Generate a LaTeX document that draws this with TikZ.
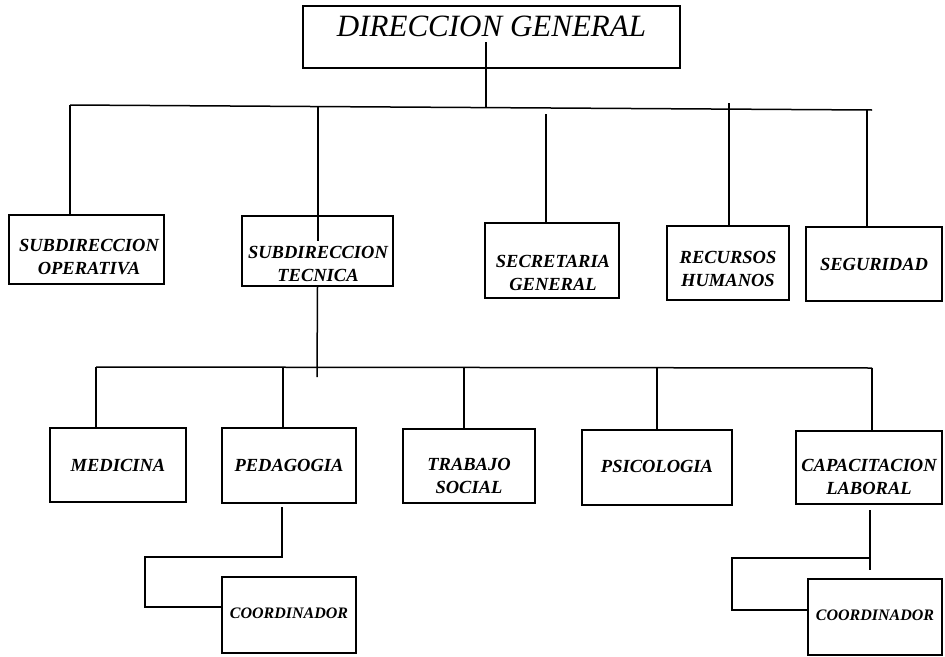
\documentclass[tikz,border=0pt]{standalone}
\usepackage{fontspec}
\setmainfont{Liberation Serif}
\begin{document}
\begin{tikzpicture}[x=1pt,y=-1pt,
  box/.style={draw, line width=1.8pt, fill=white, inner sep=0pt},
  txt/.style={inner sep=0pt, align=center,
    font=\fontsize{18.5}{23}\selectfont\bfseries\itshape},
  ctxt/.style={txt, font=\fontsize{16}{19}\selectfont\bfseries\itshape},
  ln/.style={line width=1.5pt}]
\useasboundingbox (0,0) rectangle (945,656);

% connector points
\coordinate (dgin) at (486,42);
\coordinate (dgb) at (486,107);
\coordinate (bL) at (70,105);
\coordinate (bR) at (872,110);
\coordinate (stb) at (318,106);
\coordinate (stin) at (318,241);
\coordinate (sgt) at (546,114);
\coordinate (rht) at (729,103);
\coordinate (segt) at (867,109);
\coordinate (c2L) at (96,367);
\coordinate (c2R) at (872,368);
\coordinate (c2end) at (317,377);
\coordinate (pedt) at (283,367);
\coordinate (tst) at (464,367);
\coordinate (psit) at (657,368);

% top level
\node[draw, line width=1.8pt, inner sep=0pt, minimum width=377pt,
  text height=30pt, text depth=32pt,
  font=\fontsize{31}{31}\selectfont\itshape] (dg) at (491.5,37) {DIRECCION GENERAL};

% level 2 boxes
\node[box, minimum width=155pt, minimum height=69pt] (so) at (86.5,249.5) {};
\node[box, fill=none, minimum width=151pt, minimum height=70pt] (st) at (317.5,251) {};
\node[box, minimum width=134pt, minimum height=75pt] (sg) at (552,260.5) {};
\node[box, minimum width=122pt, minimum height=74pt] (rh) at (728,263) {};
\node[box, minimum width=136pt, minimum height=74pt] (seg) at (874,264) {};

% level 3 boxes
\node[box, minimum width=136pt, minimum height=74pt] (med) at (118,465) {};
\node[box, minimum width=134pt, minimum height=75pt] (ped) at (289,465.5) {};
\node[box, minimum width=132pt, minimum height=74pt] (ts) at (469,466) {};
\node[box, minimum width=150pt, minimum height=75pt] (psi) at (657,467.5) {};
\node[box, minimum width=146pt, minimum height=73pt] (cap) at (869,467.5) {};

% level 4 boxes
\node[box, minimum width=134pt, minimum height=76pt] (co1) at (289,615) {};
\node[box, minimum width=134pt, minimum height=76pt] (co2) at (875,617) {};

% lines
\draw[ln] (dgin) -- (dgb);
\draw[ln] (bL) -- (bR);
\draw[ln] (bL) -- (bL |- so.north);
\draw[ln] (stb) -- (stin);
\draw[ln] (st.south) -- (c2end);
\draw[ln] (sgt) -- (sgt |- sg.north);
\draw[ln] (rht) -- (rht |- rh.north);
\draw[ln] (segt) -- (segt |- seg.north);

\draw[ln] (c2L) -- (c2R);
\draw[ln] (c2L) -- (c2L |- med.north);
\draw[ln] (pedt) -- (pedt |- ped.north);
\draw[ln] (tst) -- (tst |- ts.north);
\draw[ln] (psit) -- (psit |- psi.north);
\draw[ln] (c2R) -- (c2R |- cap.north);

\coordinate (p1) at (282,507);
\coordinate (p2) at (282,557);
\coordinate (p3) at (145,557);
\coordinate (p4) at (145,607);
\draw[ln] (p1) -- (p2) -- (p3) -- (p4) -- (p4 -| co1.west);

\coordinate (q1) at (870,510);
\coordinate (q2) at (870,570);
\coordinate (q3) at (870,558);
\coordinate (q4) at (732,558);
\coordinate (q5) at (732,610);
\draw[ln] (q1) -- (q2);
\draw[ln] (q3) -- (q4) -- (q5) -- (q5 -| co2.west);

% texts
\node[txt] (sot) at (89,257) {SUBDIRECCION\\OPERATIVA};
\node[txt] (stt) at (318,264) {SUBDIRECCION\\TECNICA};
\node[txt] (sgtx) at (553,273) {SECRETARIA\\GENERAL};
\node[txt] (rhtx) at (728,269) {RECURSOS\\HUMANOS};
\node[txt] (segtx) at (874,264) {SEGURIDAD};
\node[txt] (medt) at (118,465) {MEDICINA};
\node[txt] (pedtx) at (289,465) {PEDAGOGIA};
\node[txt] (tstx) at (469,476) {TRABAJO\\SOCIAL};
\node[txt] (psitx) at (657,466) {PSICOLOGIA};
\node[txt] (captx) at (869,477) {CAPACITACION\\LABORAL};
\node[ctxt] (co1t) at (289,613) {COORDINADOR};
\node[ctxt] (co2t) at (875,615) {COORDINADOR};
\end{tikzpicture}
\end{document}
